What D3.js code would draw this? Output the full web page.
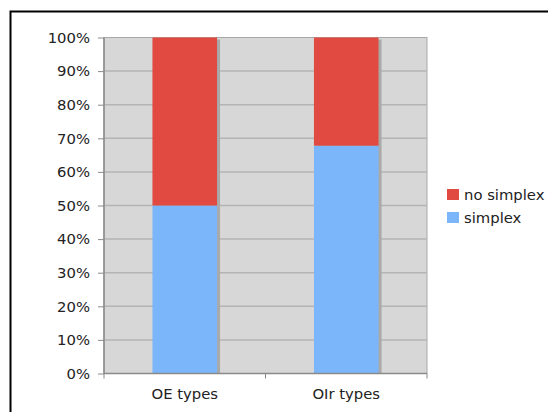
<!DOCTYPE html>
<html>
<head>
<meta charset="utf-8">
<script src="https://cdn.jsdelivr.net/npm/d3@7"></script>
<style>
  body { margin: 0; background: #fff; }
  svg { display: block; }
  svg text { font-family: "DejaVu Sans", Verdana, sans-serif; }
</style>
</head>
<body>
<div id="chart"></div>
<script>
  var categories = ['OE types', 'OIr types'],
      simplex    = [0.50, 0.678],
      noSimplex  = [0.50, 0.322],
      seriesNames  = ['no simplex', 'simplex'],
      seriesColors = ['#e04a41', '#7bb6fa'],
      yTicks = [0, 0.1, 0.2, 0.3, 0.4, 0.5, 0.6, 0.7, 0.8, 0.9, 1];

  var width = 548, height = 412;
  var plot = { left: 104, right: 427, top: 37.5, bottom: 373.5 };
  var fontSize = 14.8;

  var svg = d3.select('#chart')
              .append('svg')
              .attr('width', width)
              .attr('height', height);

  // outer frame (runs off the right / bottom edge)
  svg.append('rect')
     .attr('x', 10.5).attr('y', 11.5)
     .attr('width', 600).attr('height', 500)
     .attr('fill', 'none')
     .attr('stroke', '#000')
     .attr('stroke-width', 2);

  var x = d3.scaleBand()
            .domain(categories)
            .range([plot.left, plot.right])
            .paddingInner(0).paddingOuter(0);

  var y = d3.scaleLinear()
            .domain([0, 1])
            .range([plot.bottom, plot.top]);

  // plot background
  svg.append('rect')
     .attr('x', plot.left).attr('y', plot.top)
     .attr('width', plot.right - plot.left)
     .attr('height', plot.bottom - plot.top)
     .attr('fill', '#d7d7d7')
     .attr('stroke', '#a8a8a8');

  // gridlines
  svg.selectAll('.grid')
     .data(yTicks.slice(1, -1))
     .enter()
     .append('line')
     .attr('x1', plot.left).attr('x2', plot.right)
     .attr('y1', d => y(d)).attr('y2', d => y(d))
     .attr('stroke', '#b4b4b4')
     .attr('stroke-width', 1.5);

  // stacked data
  var rows = categories.map((c, i) => ({ cat: c, simplex: simplex[i], noSimplex: noSimplex[i] }));
  var stack = d3.stack().keys(['simplex', 'noSimplex'])(rows);
  var keyColor = { simplex: seriesColors[1], noSimplex: seriesColors[0] };

  var barW = x.bandwidth() * 0.4;
  var barX = d => x(d.data.cat) + (x.bandwidth() - barW) / 2;

  // bar shadows
  svg.selectAll('.shadow')
     .data(stack[stack.length - 1])
     .enter()
     .append('rect')
     .attr('x', d => barX(d) + 3)
     .attr('y', d => y(d[1]) + 2)
     .attr('width', barW)
     .attr('height', d => y(0) - y(d[1]) - 2)
     .attr('fill', '#a9a9a9');

  svg.selectAll('.layer')
     .data(stack)
     .enter()
     .append('g')
     .attr('fill', d => keyColor[d.key])
     .selectAll('rect')
     .data(d => d)
     .enter()
     .append('rect')
     .attr('x', barX)
     .attr('y', d => y(d[1]))
     .attr('width', barW)
     .attr('height', d => y(d[0]) - y(d[1]));

  // axis lines
  svg.append('line')
     .attr('x1', plot.left).attr('x2', plot.left)
     .attr('y1', plot.top).attr('y2', plot.bottom)
     .attr('stroke', '#8a8a8a').attr('stroke-width', 1.5);
  svg.append('line')
     .attr('x1', plot.left).attr('x2', plot.right)
     .attr('y1', plot.bottom).attr('y2', plot.bottom)
     .attr('stroke', '#8a8a8a').attr('stroke-width', 1.5);

  // y axis
  var yAxis = svg.append('g')
     .attr('transform', 'translate(' + plot.left + ',0)')
     .attr('font-size', fontSize)
     .attr('font-family', '"DejaVu Sans", Verdana, sans-serif')
     .call(d3.axisLeft(y).tickValues(yTicks).tickFormat(d3.format('.0%')).tickSize(6).tickPadding(8));
  yAxis.attr('font-size', fontSize).attr('font-family', '"DejaVu Sans", Verdana, sans-serif');
  yAxis.select('.domain').remove();
  yAxis.selectAll('line').attr('stroke', '#8a8a8a');
  yAxis.selectAll('text').attr('fill', '#222');

  // x axis: ticks at category boundaries
  var bounds = categories.map(c => x(c)).concat([plot.right]);
  svg.selectAll('.xtick')
     .data(bounds)
     .enter()
     .append('line')
     .attr('x1', d => d).attr('x2', d => d)
     .attr('y1', plot.bottom).attr('y2', plot.bottom + 5)
     .attr('stroke', '#8a8a8a');

  svg.selectAll('.xlabel')
     .data(categories)
     .enter()
     .append('text')
     .attr('x', d => x(d) + x.bandwidth() / 2)
     .attr('y', 399)
     .attr('text-anchor', 'middle')
     .attr('font-size', fontSize)
     .attr('fill', '#222')
     .text(d => d);

  // legend
  var legend = svg.selectAll('.legend')
     .data(seriesNames)
     .enter()
     .append('g')
     .attr('transform', (d, i) => 'translate(447,' + (189 + i * 23) + ')');
  legend.append('rect')
     .attr('width', 12).attr('height', 11)
     .attr('fill', (d, i) => seriesColors[i]);
  legend.append('text')
     .attr('x', 17).attr('y', 11)
     .attr('font-size', fontSize)
     .attr('fill', '#222')
     .text(d => d);
</script>
</body>
</html>
